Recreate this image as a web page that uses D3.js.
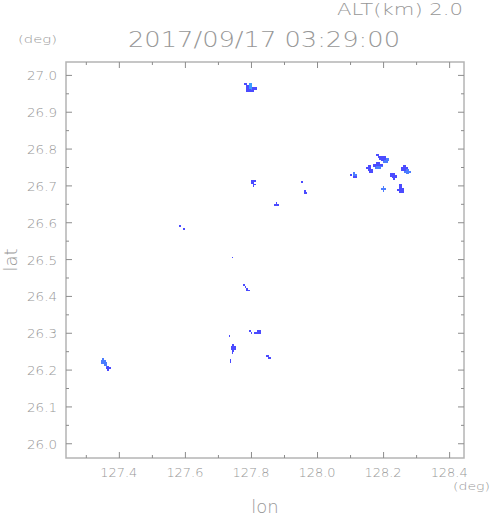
<!DOCTYPE html>
<html><head><meta charset="utf-8">
<script src="https://cdn.jsdelivr.net/npm/d3@7"></script>
<style>
html,body{margin:0;padding:0;background:#fff;}
svg{display:block;}
text{font-family:"DejaVu Sans",sans-serif;font-weight:200;fill:#979797;}
</style></head>
<body>
<svg id="chart" width="491" height="521"></svg>
<script>
// ---- data ----
const lonDomain = [127.24, 128.445];
const latDomain = [25.96, 27.035];
const lonMajorTicks = [127.4, 127.6, 127.8, 128.0, 128.2, 128.4];
const lonMinorTicks = [127.3, 127.5, 127.7, 127.9, 128.1, 128.3];
const latMajorTicks = [26.0, 26.1, 26.2, 26.3, 26.4, 26.5, 26.6, 26.7, 26.8, 26.9, 27.0];
const latMinorTicks = [26.05, 26.15, 26.25, 26.35, 26.45, 26.55, 26.65, 26.75, 26.85, 26.95];
const titleText = "2017/09/17 03:29:00";
const altText = "ALT(km) 2.0";
const cellDeg = 0.005;
const levelColors = {"1": "#4b4bff", "2": "#4b7dff", "3": "#3c9cff"};
// echo patches: top-left lon/lat of a grid of cells (rows north->south), char = echo level
const echoPatches = [
  {lon: 127.779, lat: 26.978, rows: ["11.33...", ".1133...", ".1133111", ".1112111", ".11111.."]},
  {lon: 127.800, lat: 26.715, rows: ["111", "11.", ".11", ".1."]},
  {lon: 127.870, lat: 26.655, rows: [".1.", "111"]},
  {lon: 127.952, lat: 26.712, rows: ["1"]},
  {lon: 127.961, lat: 26.6875, rows: ["1.", "11"]},
  {lon: 128.179, lat: 26.785, rows: ["11......", ".11111..", "..111122", "...11222", "....222."]},
  {lon: 128.170, lat: 26.764, rows: ["..11..", "111111", "112222", ".2222."]},
  {lon: 128.1485, lat: 26.755, rows: [".11.", "111.", ".111", "..11"]},
  {lon: 128.100, lat: 26.736, rows: ["..2.", "1.22", "..11"]},
  {lon: 128.2545, lat: 26.755, rows: [".11...", "1111..", "11122.", "..2222", "...22."]},
  {lon: 128.221, lat: 26.734, rows: ["111.", "1111", ".111", "..1."]},
  {lon: 128.194, lat: 26.698, rows: [".2.", "222", ".2."]},
  {lon: 128.2424, lat: 26.704, rows: [".11.", ".11.", ".111", "1111", ".111"]},
  {lon: 127.583, lat: 26.593, rows: ["1"]},
  {lon: 127.595, lat: 26.584, rows: ["1"]},
  {lon: 127.742, lat: 26.507, rows: ["1"]},
  {lon: 127.776, lat: 26.432, rows: ["1...", ".1..", "..1.", "..11"]},
  {lon: 127.794, lat: 26.307, rows: ["1....11", ".1.1111"]},
  {lon: 127.733, lat: 26.294, rows: ["1"]},
  {lon: 127.739, lat: 26.269, rows: [".1.", "111", "111", ".1."]},
  {lon: 127.742, lat: 26.247, rows: ["1"]},
  {lon: 127.736, lat: 26.228, rows: ["1", "1"]},
  {lon: 127.8455, lat: 26.239, rows: ["11.", ".11"]},
  {lon: 127.3455, lat: 26.231, rows: [".2....", "222...", "2222..", "..22..", "...21.", "...111", "....1."]}
];

// ---- layout ----
const L = 66, R = 464, T = 62, B = 458;
const x = d3.scaleLinear().domain(lonDomain).range([L, R]);
const y = d3.scaleLinear().domain(latDomain).range([B, T]);
const svg = d3.select("#chart");
svg.append("rect").attr("width", 491).attr("height", 521).attr("fill", "#fff");

// cells
const cells = [];
echoPatches.forEach(p => {
  p.rows.forEach((row, r) => {
    for (let c = 0; c < row.length; c++) {
      const ch = row[c];
      if (ch !== ".") cells.push({lon: p.lon + c * cellDeg, lat: p.lat - r * cellDeg, level: ch});
    }
  });
});
svg.append("g").attr("shape-rendering", "crispEdges")
  .selectAll("rect").data(cells).join("rect")
  .attr("x", d => x(d.lon))
  .attr("y", d => y(d.lat))
  .attr("width", d => x(d.lon + cellDeg) - x(d.lon))
  .attr("height", d => y(d.lat - cellDeg) - y(d.lat))
  .attr("fill", d => levelColors[d.level]);

// frame
svg.append("rect").attr("x", L).attr("y", T).attr("width", R - L).attr("height", B - T)
  .attr("fill", "none").attr("stroke", "#b4b4b4").attr("stroke-width", 1.5);

const tickColor = "#8c8c8c";
function ticks(axisGen, tr, size) {
  const g = svg.append("g").attr("transform", tr).call(axisGen.tickSize(size).tickFormat(""));
  g.select(".domain").remove();
  g.selectAll("line").attr("stroke", tickColor).attr("stroke-width", 1);
  return g;
}
// bottom and top (inward)
ticks(d3.axisTop(x).tickValues(lonMajorTicks), `translate(0,${B})`, 6);
ticks(d3.axisTop(x).tickValues(lonMinorTicks), `translate(0,${B})`, 3);
ticks(d3.axisBottom(x).tickValues(lonMajorTicks), `translate(0,${T})`, 6);
ticks(d3.axisBottom(x).tickValues(lonMinorTicks), `translate(0,${T})`, 3);
// left and right (inward)
ticks(d3.axisRight(y).tickValues(latMajorTicks), `translate(${L},0)`, 6);
ticks(d3.axisRight(y).tickValues(latMinorTicks), `translate(${L},0)`, 3);
ticks(d3.axisLeft(y).tickValues(latMajorTicks), `translate(${R},0)`, 6);
ticks(d3.axisLeft(y).tickValues(latMinorTicks), `translate(${R},0)`, 3);

// tick labels
svg.append("g").selectAll("text").data(lonMajorTicks).join("text")
  .attr("x", d => x(d)).attr("y", 477).attr("text-anchor", "middle")
  .attr("font-size", 13).attr("textLength", 37).attr("lengthAdjust", "spacingAndGlyphs")
  .text(d => d.toFixed(1));
svg.append("g").selectAll("text").data(latMajorTicks).join("text")
  .attr("x", 57).attr("y", d => y(d) + 5.5).attr("text-anchor", "end")
  .attr("font-size", 13).attr("textLength", 30).attr("lengthAdjust", "spacingAndGlyphs")
  .text(d => d.toFixed(1));

// titles
svg.append("text").attr("x", 128).attr("y", 47).attr("font-size", 21)
  .attr("textLength", 272).attr("lengthAdjust", "spacingAndGlyphs").text(titleText);
svg.append("text").attr("x", 337).attr("y", 15).attr("font-size", 16)
  .attr("textLength", 126).attr("lengthAdjust", "spacingAndGlyphs").text(altText);
svg.append("text").attr("x", 18).attr("y", 43).attr("font-size", 11)
  .attr("textLength", 39).attr("lengthAdjust", "spacingAndGlyphs").text("(deg)");
svg.append("text").attr("x", 453).attr("y", 490).attr("font-size", 11)
  .attr("textLength", 37).attr("lengthAdjust", "spacingAndGlyphs").text("(deg)");
svg.append("text").attr("x", (L + R) / 2).attr("y", 513).attr("text-anchor", "middle")
  .attr("font-size", 18).text("lon");
svg.append("text").attr("transform", `translate(17,${(T + B) / 2}) rotate(-90)`)
  .attr("text-anchor", "middle").attr("font-size", 18).text("lat");
</script>
</body></html>
